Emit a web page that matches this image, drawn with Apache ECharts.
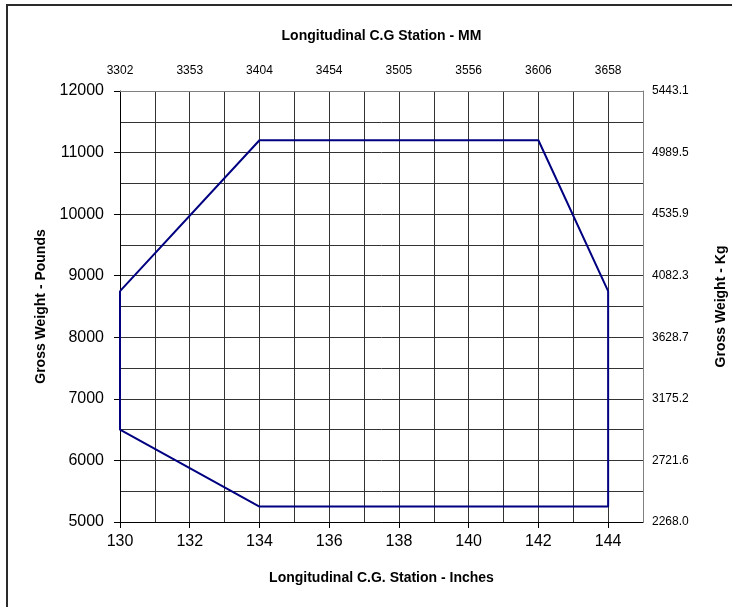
<!DOCTYPE html>
<html>
<head>
<meta charset="utf-8">
<script src="https://cdn.jsdelivr.net/npm/echarts@6/dist/echarts.min.js"></script>
<style>
  html, body { margin: 0; padding: 0; background: #fff; }
  #chart { width: 732px; height: 607px; }
</style>
</head>
<body>
<div id="chart"></div>
<script>
// envelope corners (inches, pounds)
var cgInches  = [130, 134, 142, 144, 144, 134, 130, 130];
var weightLbs = [8750, 11200, 11200, 8750, 5250, 5250, 6500, 8750];

// tick labels
var inchTicks = [130, 132, 134, 136, 138, 140, 142, 144];
var mmLabels  = ['3302', '3353', '3404', '3454', '3505', '3556', '3606', '3658'];
var lbsTicks  = [5000, 6000, 7000, 8000, 9000, 10000, 11000, 12000];
var kgLabels  = ['2268.0', '2721.6', '3175.2', '3628.7', '4082.3', '4535.9', '4989.5', '5443.1'];

var FONT = '"Liberation Sans", Arial, sans-serif';
var gridLine = { show: true, lineStyle: { color: '#333', width: 1 } };
var nameStyle = { fontFamily: FONT, fontSize: 14, fontWeight: 'bold', color: '#000' };

var chart = echarts.init(document.getElementById('chart'));

chart.setOption({
  animation: false,
  backgroundColor: '#fff',
  grid: { left: 120, right: 89, top: 91, bottom: 85, containLabel: false, outerBoundsMode: 'none' },
  graphic: [{
    type: 'rect',
    shape: { x: 7, y: 5, width: 900, height: 800 },
    style: { fill: null, stroke: '#2b2b2b', lineWidth: 2 },
    silent: true
  }],
  xAxis: [{
    // bottom axis: inches, labels and ticks every 2
    type: 'value',
    position: 'bottom',
    min: 130,
    max: 145,
    interval: 1,
    name: 'Longitudinal C.G. Station - Inches',
    nameLocation: 'middle',
    nameGap: 49,
    nameTextStyle: nameStyle,
    axisLine: { show: true, lineStyle: { color: '#000', width: 1 } },
    axisTick: { show: true, length: 6, customValues: inchTicks, lineStyle: { color: '#000' } },
    axisLabel: { customValues: inchTicks, margin: 12, fontFamily: FONT, fontSize: 16, color: '#000',
      formatter: function (v) { return String(v); } },
    splitLine: { show: false }
  }, {
    // top axis: millimetres, also draws the 1-inch grid
    type: 'value',
    position: 'top',
    min: 130,
    max: 145,
    interval: 1,
    name: 'Longitudinal C.G Station - MM',
    nameLocation: 'middle',
    nameGap: 48,
    nameTextStyle: nameStyle,
    axisLine: { show: true, lineStyle: { color: '#808080', width: 1 } },
    axisTick: { show: false },
    axisLabel: {
      customValues: inchTicks,
      margin: 14,
      fontFamily: FONT, fontSize: 12, color: '#000',
      formatter: function (v) { return mmLabels[inchTicks.indexOf(v)] || ''; }
    },
    splitLine: gridLine
  }],
  yAxis: [{
    type: 'value',
    position: 'left',
    min: 5000,
    max: 12000,
    interval: 500,
    name: 'Gross Weight - Pounds',
    nameLocation: 'middle',
    nameGap: 72,
    nameTextStyle: nameStyle,
    axisLine: { show: true, lineStyle: { color: '#000', width: 1 } },
    axisTick: { show: true, length: 6, customValues: lbsTicks, lineStyle: { color: '#000' } },
    axisLabel: { customValues: lbsTicks, margin: 16, fontFamily: FONT, fontSize: 16, color: '#000',
      formatter: function (v) { return String(v); } },
    splitLine: { show: false }
  }, {
    type: 'value',
    position: 'right',
    min: 5000,
    max: 12000,
    interval: 500,
    name: 'Gross Weight - Kg',
    nameLocation: 'middle',
    nameGap: 71,
    nameRotate: 90,
    nameTextStyle: nameStyle,
    axisLine: { show: true, lineStyle: { color: '#808080', width: 1 } },
    axisTick: { show: false },
    axisLabel: {
      customValues: lbsTicks,
      margin: 9,
      fontFamily: FONT, fontSize: 12, color: '#000',
      formatter: function (v) { return kgLabels[lbsTicks.indexOf(v)] || ''; }
    },
    splitLine: gridLine
  }],
  series: [{
    type: 'line',
    xAxisIndex: 0,
    yAxisIndex: 0,
    data: cgInches.map(function (x, i) { return [x, weightLbs[i]]; }),
    showSymbol: false,
    symbol: 'none',
    lineStyle: { color: '#000080', width: 2 },
    z: 5
  }]
});
</script>
</body>
</html>
